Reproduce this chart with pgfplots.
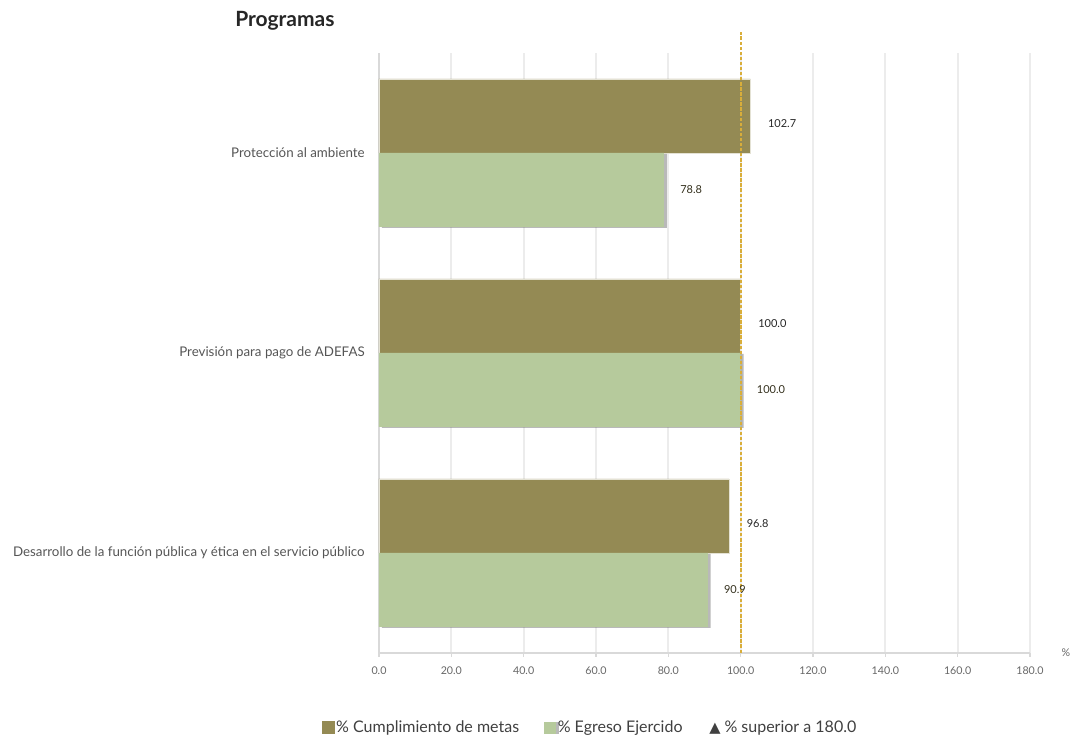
\documentclass[border=0pt]{standalone}
\usepackage{fontspec}
\setmainfont{Lato}
\newfontfamily\dejavu{DejaVu Sans}
\usepackage{pgfplots}
\pgfplotsset{compat=1.18}
\usetikzlibrary{shadows}
\pgfkeys{/pgf/number format/assume math mode=true}
\definecolor{darkbar}{HTML}{948A54}
\definecolor{lightbar}{HTML}{B6CA9C}
\definecolor{refline}{HTML}{D9AE3A}
\definecolor{gridc}{HTML}{ECECEC}
\definecolor{axisc}{HTML}{D9D9D9}
\definecolor{tickc}{HTML}{666666}
\definecolor{labc}{HTML}{555555}
\definecolor{legc}{HTML}{404040}
\begin{document}
\begin{tikzpicture}
\useasboundingbox (-284.25pt,-63.75pt) rectangle (519.75pt,489.75pt);
\begin{axis}[
  at={(0pt,0pt)}, anchor=south west,
  scale only axis,
  width=488.25pt, height=450pt,
  xmin=0, xmax=180, ymin=-0.5, ymax=2.5,
  bar width=0.37,
  clip=false,
  xtick={0,20,...,180},
  xticklabel={\pgfmathprintnumber[fixed,fixed zerofill,precision=1]{\tick}},
  xticklabel style={font=\fontsize{8}{9.6}\selectfont, color=tickc, inner sep=0pt, anchor=north, yshift=-7.5pt},
  ytick={0,1,2},
  yticklabels={Desarrollo de la función pública y ética en el servicio público, Previsión para pago de ADEFAS, Protección al ambiente},
  yticklabel style={font=\fontsize{10}{12}\selectfont, color=labc, inner sep=0pt, anchor=east, xshift=-10.5pt},
  axis x line*=bottom, axis y line*=left,
  axis line style={-, draw=axisc, line width=1.5pt},
  xtick align=outside, major tick length=3pt,
  xtick style={draw=axisc, line width=1pt},
  ytick style={draw=none},
  xmajorgrids, major grid style={draw=gridc, line width=1.5pt},
  legend columns=3,
  legend style={draw=none, fill=none, at={(0.324,-0.1244)}, anchor=center,
    font=\fontsize{12}{14.4}\selectfont, text=legc,
    /tikz/every even column/.append style={column sep=17pt},
    nodes={inner sep=1.5pt}},
  legend cell align=left,
]
\addplot[xbar, fill=darkbar, draw=white!75!darkbar, line width=0.5pt, bar shift=0.185,
  nodes near coords={\pgfmathprintnumber[fixed,fixed zerofill,precision=1]{\pgfplotspointmeta}},
  nodes near coords style={anchor=west, inner sep=0pt, xshift=13pt, yshift=22pt, font=\fontsize{8.25}{9.9}\selectfont, color=black!85},
  legend image code/.code={\fill[darkbar] (0pt,-4.5pt) rectangle (9pt,4.5pt);}]
  coordinates {(96.8,0) (100.0,1) (102.7,2)};
\addlegendentry{\% Cumplimiento de metas}
\addplot[xbar, fill=lightbar, draw=none, bar shift=-0.185,
  drop shadow={shadow xshift=2.2pt, shadow yshift=-0.6pt, opacity=0.5, fill=black!55},
  nodes near coords={\pgfmathprintnumber[fixed,fixed zerofill,precision=1]{\pgfplotspointmeta}},
  nodes near coords style={anchor=west, inner sep=0pt, xshift=12pt, yshift=-27.75pt, font=\fontsize{8.25}{9.9}\selectfont, color=black!65!darkbar},
  legend image code/.code={\fill[lightbar] (0pt,-4.5pt) rectangle (9pt,4.5pt);}]
  coordinates {(90.9,0) (100.0,1) (78.8,2)};
\addlegendentry{\% Egreso Ejercido}
\addlegendimage{empty legend}
\addlegendentry{{\dejavu\fontsize{11}{13}\selectfont ▲}\hspace{3pt}\% superior a 180.0}
\addplot[sharp plot, draw=refline, line width=1.3pt, dash pattern=on 2.6pt off 1.2pt, forget plot, mark=none]
  coordinates {(100,-0.5) (100,2.605)};
\node[font=\fontsize{8}{9.6}\selectfont, color=tickc] at ([xshift=27pt]rel axis cs:1,0) {\%};
\end{axis}
\node[anchor=base west, inner sep=0pt, font=\fontsize{15.75}{19}\selectfont\bfseries, color=black!85] at (-108pt,469.5pt) {Programas};
\end{tikzpicture}
\end{document}
